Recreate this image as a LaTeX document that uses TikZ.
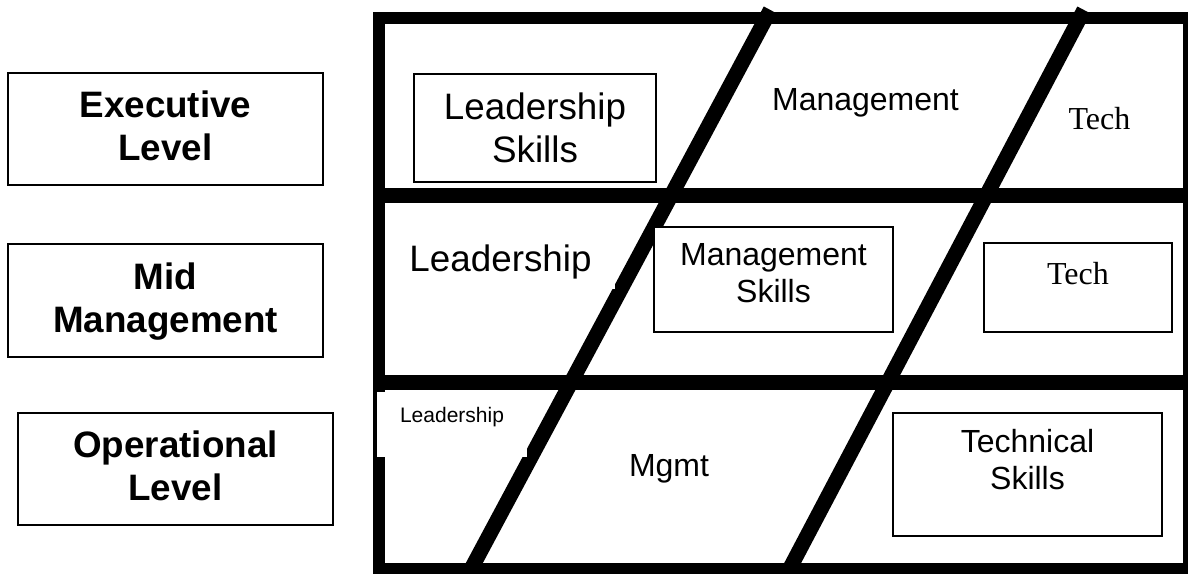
\documentclass[tikz,border=0pt]{standalone}
\usepackage{fontspec}
\setmainfont{Liberation Sans}
\newfontfamily\timesfont{Liberation Serif}
\newcommand{\bigtext}{\fontsize{36.8}{42.3}\selectfont}
\newcommand{\midtext}{\fontsize{32}{36.8}\selectfont}
\newcommand{\smalltext}{\fontsize{21}{24}\selectfont}
\tikzset{
  levelbox/.style={draw, line width=2pt, fill=white, inner xsep=0pt, inner ysep=0pt,
    align=center, minimum width=315pt, anchor=base, font=\bigtext\bfseries},
  skillbox/.style={draw, line width=1.5pt, fill=white, inner xsep=0pt, inner ysep=0pt,
    align=center, anchor=base},
  patch/.style={fill=white, inner xsep=0pt, inner ysep=0pt, anchor=base},
  outerframe/.style={line width=12pt},
  divider/.style={line width=15pt},
  slash/.style={line width=15pt}
}
\begin{document}
\begin{tikzpicture}[x=1pt,y=-1pt]
\clip (0,0) rectangle (1188,573);
\draw[outerframe] (378.5,18) rectangle (1189,569);
\draw[divider] (378.5,195.5) -- (1189,195.5);
\draw[divider] (378.5,382.5) -- (1189,382.5);
\draw[slash] (770.4,10) -- (471.1,569);
\draw[slash] (1084,10) -- (789.5,569);

\node[levelbox, text height=87pt, text depth=25pt] (exec) at (165.5,160) {Executive\\Level};
\node[levelbox, text height=88pt, text depth=25pt] (mid) at (165.5,332) {Mid\\Management};
\node[levelbox, text height=87pt, text depth=25pt] (oper) at (175.5,500) {Operational\\Level};

\node[skillbox, minimum width=242pt, text height=88pt, text depth=20pt, font=\bigtext] (leadskills) at (535,162) {Leadership\\Skills};
\node[anchor=base, font=\midtext] (mgmttop) at (865.5,110) {Management};
\node[anchor=base, font=\midtext\timesfont] (techtop) at (1099.5,129) {Tech};

\node[patch, minimum width=229pt, text height=36pt, text depth=18pt, font=\bigtext] (leadmid) at (500.5,271) {Leadership};
\node[skillbox, minimum width=239pt, text height=75pt, text depth=30pt, font=\midtext] (mgmtskills) at (773.5,302) {Management\\Skills};
\node[skillbox, minimum width=188pt, text height=41pt, text depth=48pt, font=\midtext\timesfont] (techmid) at (1078,284) {Tech};

\node[patch, minimum width=150pt, text height=30pt, text depth=35pt, font=\smalltext] (leadop) at (452,422) {Leadership};
\node[anchor=base, font=\midtext] (mgmtop) at (669,476) {Mgmt};
\node[skillbox, minimum width=269pt, text height=76pt, text depth=47pt, font=\midtext] (techskills) at (1027.5,489) {Technical\\Skills};
\end{tikzpicture}
\end{document}
